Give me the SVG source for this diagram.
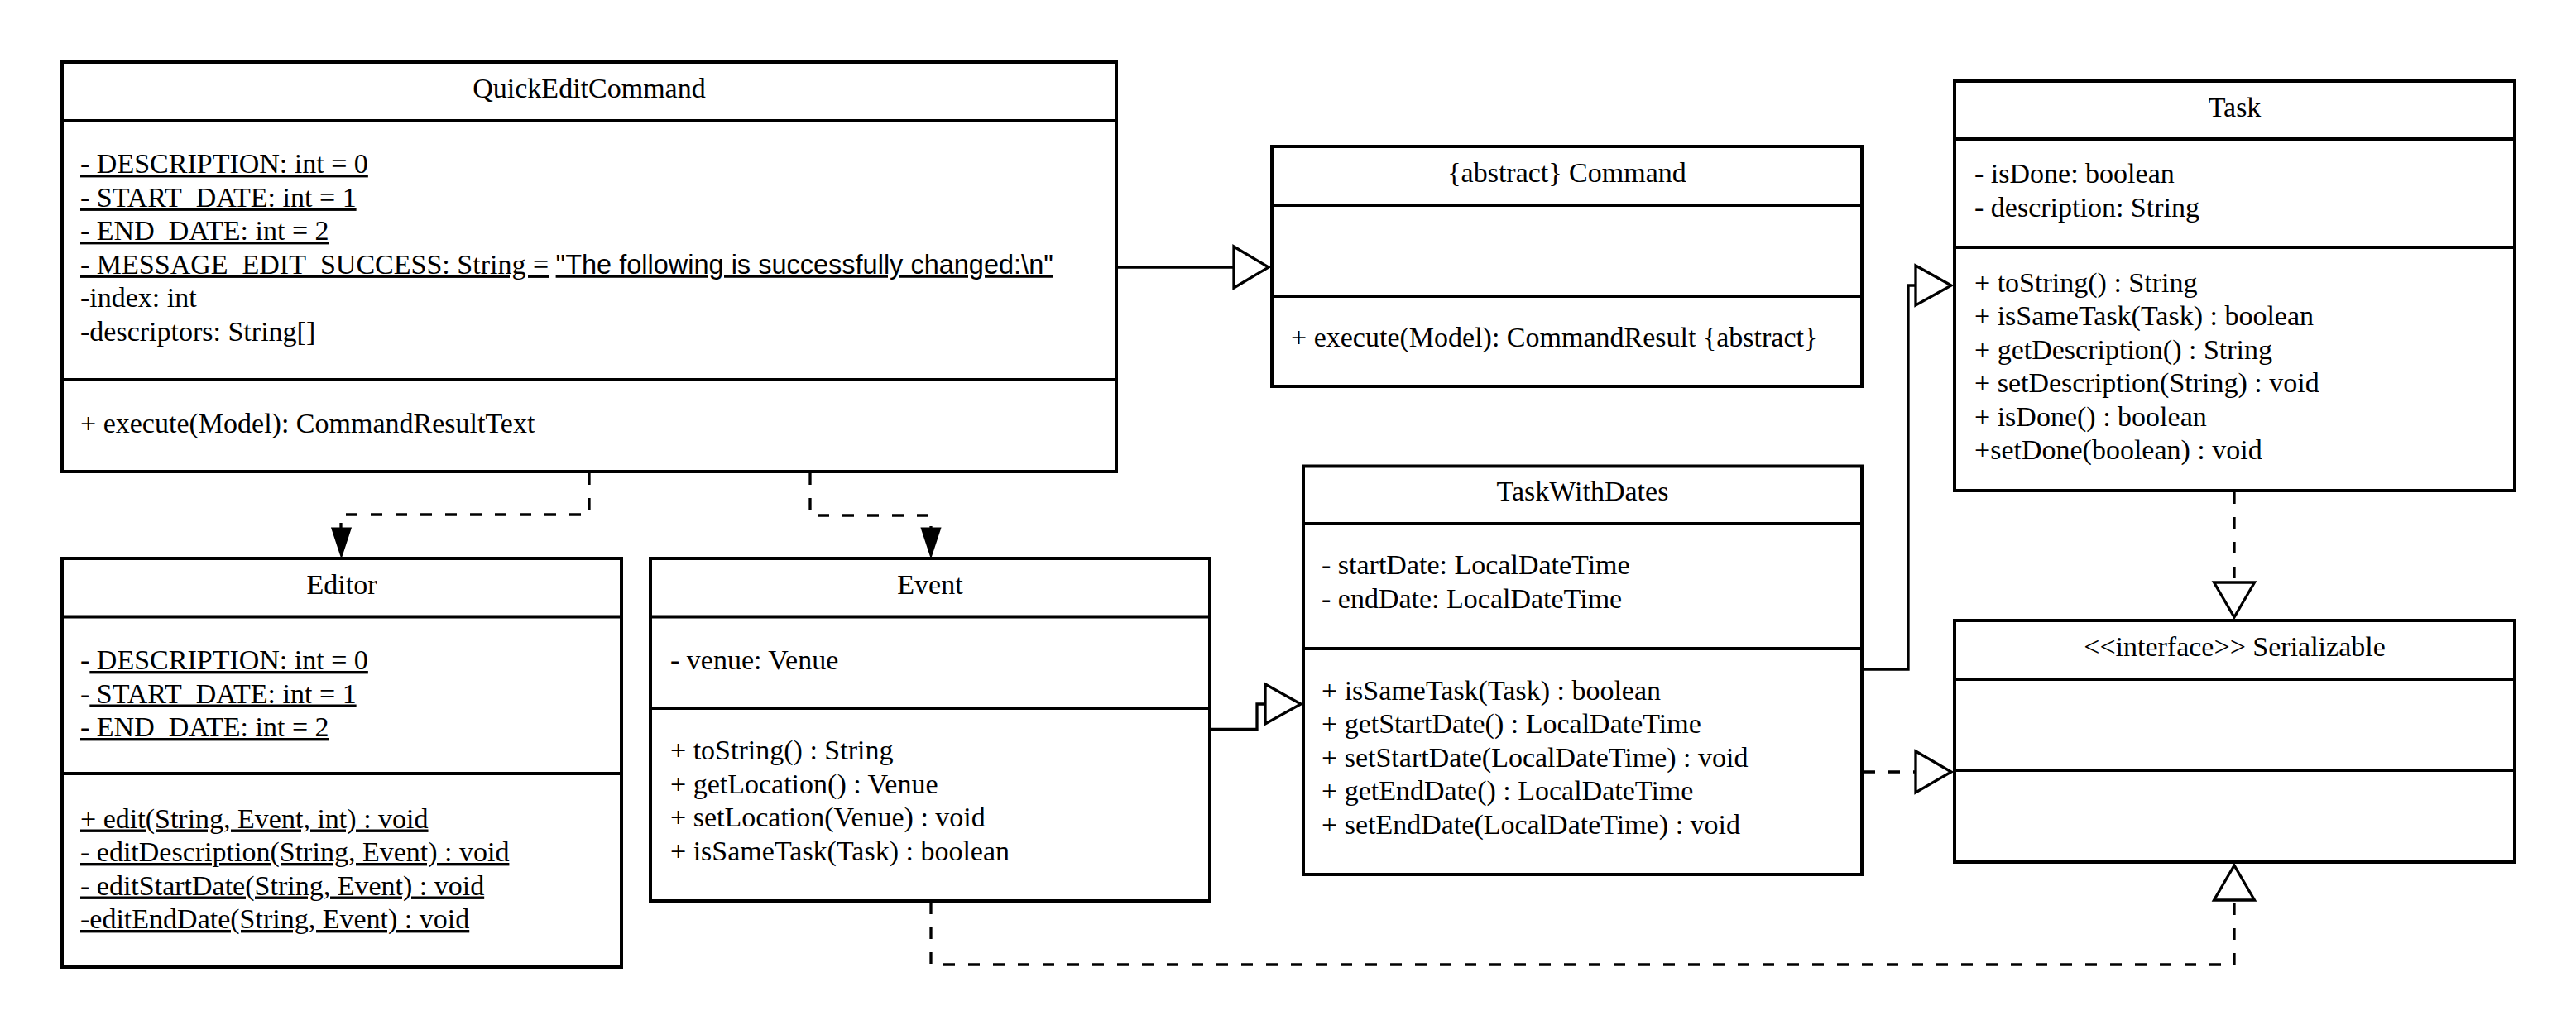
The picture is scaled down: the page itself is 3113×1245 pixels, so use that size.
<svg xmlns="http://www.w3.org/2000/svg" width="3113" height="1245" viewBox="0 0 3113 1245">
<style>
.box{fill:#fff;stroke:#000;stroke-width:4}
.div{stroke:#000;stroke-width:4}
.t{font-family:"Liberation Serif","Times New Roman",serif;font-size:34px;fill:#000}
.c{text-anchor:middle}
.u{text-decoration:underline}
.sans{font-family:"Liberation Sans",Arial,sans-serif;font-size:32.5px}
.ln{fill:none;stroke:#000;stroke-width:3.3}
.dash{stroke-dasharray:14 16}
.hollow{fill:#fff;stroke:#000;stroke-width:3.3}
.solid{fill:#000;stroke:#000;stroke-width:3}
</style>
<rect width="3113" height="1245" fill="#fff"/>

<g id="connectors">
  <!-- QuickEditCommand -> Command (generalization) -->
  <line class="ln" x1="1349" y1="323" x2="1491" y2="323"/>
  <polygon class="hollow" points="1491,298 1533,323 1491,348"/>
  <!-- QuickEditCommand -> Editor (dependency) -->
  <polyline class="ln dash" points="712,572 712,622 412,622 412,640"/>
  <polygon class="solid" points="402,639 423,639 412.5,671"/>
  <!-- QuickEditCommand -> Event (dependency) -->
  <polyline class="ln dash" points="979,572 979,623 1125,623 1125,640"/>
  <polygon class="solid" points="1114.5,639 1135.5,639 1125,671"/>
  <!-- Event -> TaskWithDates (generalization) -->
  <polyline class="ln" points="1462,881.5 1519,881.5 1519,851 1529,851"/>
  <polygon class="hollow" points="1529,827 1572,851 1529,875"/>
  <!-- TaskWithDates -> Task (generalization) -->
  <polyline class="ln" points="2250,809 2306,809 2306,345 2315,345"/>
  <polygon class="hollow" points="2315,321 2358,345 2315,369"/>
  <!-- TaskWithDates -> Serializable (realization) -->
  <line class="ln dash" x1="2252" y1="933" x2="2315" y2="933"/>
  <polygon class="hollow" points="2315,908 2358,933 2315,958"/>
  <!-- Task -> Serializable (realization) -->
  <line class="ln dash" x1="2700" y1="595" x2="2700" y2="704"/>
  <polygon class="hollow" points="2675.5,704 2724.5,704 2700,746"/>
  <!-- Event -> Serializable (realization) -->
  <polyline class="ln dash" points="1125,1091 1125,1166 2700,1166 2700,1088"/>
  <polygon class="hollow" points="2675.5,1088 2724.5,1088 2700,1046"/>
</g>

<g id="QuickEditCommand">
  <rect class="box" x="75" y="75" width="1274" height="495"/>
  <line class="div" x1="75" y1="146" x2="1349" y2="146"/>
  <line class="div" x1="75" y1="459" x2="1349" y2="459"/>
  <text class="t c" x="712" y="118">QuickEditCommand</text>
  <text class="t u" x="97" y="209">- DESCRIPTION: int = 0</text>
  <text class="t u" x="97" y="249.5">- START_DATE: int = 1</text>
  <text class="t u" x="97" y="290">- END_DATE: int = 2</text>
  <text class="t" x="97" y="330.5"><tspan class="u">- MESSAGE_EDIT_SUCCESS: String =</tspan> <tspan class="u sans">"The following is successfully changed:\n"</tspan></text>
  <text class="t" x="97" y="371">-index: int</text>
  <text class="t" x="97" y="411.5">-descriptors: String[]</text>
  <text class="t" x="97" y="522.5">+ execute(Model): CommandResultText</text>
</g>

<g id="Command">
  <rect class="box" x="1537" y="177" width="713" height="290"/>
  <line class="div" x1="1537" y1="248" x2="2250" y2="248"/>
  <line class="div" x1="1537" y1="358" x2="2250" y2="358"/>
  <text class="t c" x="1893.5" y="220">{abstract} Command</text>
  <text class="t" x="1560" y="419">+ execute(Model): CommandResult {abstract}</text>
</g>

<g id="Task">
  <rect class="box" x="2362" y="98" width="677" height="495"/>
  <line class="div" x1="2362" y1="168" x2="3039" y2="168"/>
  <line class="div" x1="2362" y1="299" x2="3039" y2="299"/>
  <text class="t c" x="2700.5" y="141">Task</text>
  <text class="t" x="2386" y="221">- isDone: boolean</text>
  <text class="t" x="2386" y="261.5">- description: String</text>
  <text class="t" x="2386" y="352.5">+ toString() : String</text>
  <text class="t" x="2386" y="393">+ isSameTask(Task) : boolean</text>
  <text class="t" x="2386" y="433.5">+ getDescription() : String</text>
  <text class="t" x="2386" y="474">+ setDescription(String) : void</text>
  <text class="t" x="2386" y="514.5">+ isDone() : boolean</text>
  <text class="t" x="2386" y="555">+setDone(boolean) : void</text>
</g>

<g id="Serializable">
  <rect class="box" x="2362" y="750" width="677" height="292"/>
  <line class="div" x1="2362" y1="821" x2="3039" y2="821"/>
  <line class="div" x1="2362" y1="931" x2="3039" y2="931"/>
  <text class="t c" x="2700.5" y="792.5">&lt;&lt;interface&gt;&gt; Serializable</text>
</g>

<g id="TaskWithDates">
  <rect class="box" x="1575" y="563.5" width="675" height="493.5"/>
  <line class="div" x1="1575" y1="633" x2="2250" y2="633"/>
  <line class="div" x1="1575" y1="784" x2="2250" y2="784"/>
  <text class="t c" x="1912.5" y="605">TaskWithDates</text>
  <text class="t" x="1597" y="694">- startDate: LocalDateTime</text>
  <text class="t" x="1597" y="734.5">- endDate: LocalDateTime</text>
  <text class="t" x="1597" y="845.5">+ isSameTask(Task) : boolean</text>
  <text class="t" x="1597" y="886">+ getStartDate() : LocalDateTime</text>
  <text class="t" x="1597" y="926.5">+ setStartDate(LocalDateTime) : void</text>
  <text class="t" x="1597" y="967">+ getEndDate() : LocalDateTime</text>
  <text class="t" x="1597" y="1007.5">+ setEndDate(LocalDateTime) : void</text>
</g>

<g id="Editor">
  <rect class="box" x="75" y="675" width="676" height="494"/>
  <line class="div" x1="75" y1="745.5" x2="751" y2="745.5"/>
  <line class="div" x1="75" y1="935" x2="751" y2="935"/>
  <text class="t c" x="413" y="718">Editor</text>
  <text class="t" x="97" y="809">-<tspan class="u"> DESCRIPTION: int = 0</tspan></text>
  <text class="t" x="97" y="849.5">-<tspan class="u"> START_DATE: int = 1</tspan></text>
  <text class="t u" x="97" y="890">- END_DATE: int = 2</text>
  <text class="t u" x="97" y="1000.5">+ edit(String, Event, int) : void</text>
  <text class="t u" x="97" y="1041">- editDescription(String, Event) : void</text>
  <text class="t u" x="97" y="1081.5">- editStartDate(String, Event) : void</text>
  <text class="t u" x="97" y="1122">-editEndDate(String, Event) : void</text>
</g>

<g id="Event">
  <rect class="box" x="786" y="675" width="676" height="414"/>
  <line class="div" x1="786" y1="745.5" x2="1462" y2="745.5"/>
  <line class="div" x1="786" y1="856" x2="1462" y2="856"/>
  <text class="t c" x="1124" y="718">Event</text>
  <text class="t" x="810" y="808.5">- venue: Venue</text>
  <text class="t" x="810" y="918">+ toString() : String</text>
  <text class="t" x="810" y="958.5">+ getLocation() : Venue</text>
  <text class="t" x="810" y="999">+ setLocation(Venue) : void</text>
  <text class="t" x="810" y="1039.5">+ isSameTask(Task) : boolean</text>
</g>
</svg>
